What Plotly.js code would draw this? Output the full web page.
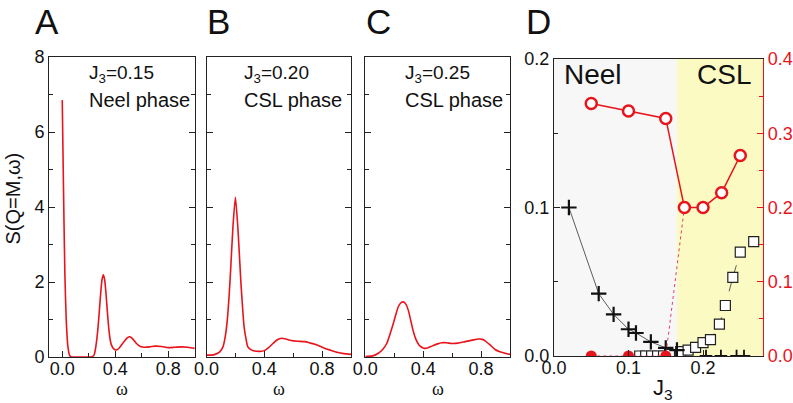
<!DOCTYPE html>
<html>
<head>
<meta charset="utf-8">
<script src="https://cdn.plot.ly/plotly-3.0.1.min.js"></script>
<style>html,body{margin:0;padding:0;background:#fff;}#chart{width:793px;height:403px;}</style>
</head>
<body>
<div id="chart"></div>
<script>
// ---- Panel A: J3 = 0.15 (Neel phase)
var omegaA = [0, 0.005, 0.013, 0.02, 0.03, 0.043, 0.056, 0.07, 0.1, 0.15, 0.2, 0.22, 0.24, 0.25, 0.26, 0.27, 0.28, 0.29, 0.30, 0.31, 0.32, 0.33, 0.34, 0.35, 0.36, 0.37, 0.39, 0.41, 0.43, 0.46, 0.49, 0.51, 0.53, 0.56, 0.59, 0.62, 0.66, 0.70, 0.75, 0.80, 0.85, 0.90, 0.95, 1.0];
var sA     = [6.85, 5.6, 3.65, 2.2, 0.99, 0.27, 0.04, 0, 0, 0, 0, 0, 0.05, 0.2, 0.45, 0.79, 1.23, 1.7, 2.06, 2.19, 2.06, 1.7, 1.23, 0.8, 0.5, 0.33, 0.21, 0.19, 0.24, 0.38, 0.51, 0.54, 0.49, 0.36, 0.28, 0.26, 0.27, 0.29, 0.28, 0.25, 0.26, 0.27, 0.26, 0.23];
// ---- Panel B: J3 = 0.20 (CSL phase)
var omegaB = [0, 0.03, 0.06, 0.09, 0.114, 0.13, 0.144, 0.156, 0.167, 0.183, 0.2, 0.218, 0.237, 0.25, 0.26, 0.275, 0.286, 0.31, 0.333, 0.37, 0.4, 0.43, 0.46, 0.49, 0.52, 0.55, 0.585, 0.63, 0.68, 0.72, 0.75, 0.79, 0.82, 0.86, 0.91, 0.95, 1.0];
var sB     = [0.05, 0.05, 0.07, 0.13, 0.27, 0.55, 0.99, 1.6, 2.32, 3.47, 4.26, 3.39, 2.05, 1.3, 0.81, 0.45, 0.27, 0.19, 0.16, 0.15, 0.17, 0.25, 0.36, 0.46, 0.5, 0.48, 0.44, 0.42, 0.41, 0.37, 0.34, 0.28, 0.23, 0.18, 0.12, 0.09, 0.07];
// ---- Panel C: J3 = 0.25 (CSL phase)
var omegaC = [0, 0.05, 0.09, 0.12, 0.148, 0.17, 0.194, 0.21, 0.228, 0.245, 0.263, 0.28, 0.297, 0.315, 0.332, 0.35, 0.371, 0.39, 0.408, 0.43, 0.46, 0.5, 0.528, 0.56, 0.598, 0.64, 0.69, 0.74, 0.782, 0.81, 0.828, 0.86, 0.897, 0.93, 0.967, 1.0];
var sC     = [0.01, 0.03, 0.1, 0.2, 0.36, 0.6, 0.9, 1.12, 1.34, 1.44, 1.47, 1.41, 1.25, 0.96, 0.68, 0.47, 0.32, 0.26, 0.23, 0.24, 0.29, 0.35, 0.38, 0.38, 0.36, 0.37, 0.41, 0.45, 0.48, 0.47, 0.43, 0.33, 0.2, 0.14, 0.1, 0.07];
// ---- Panel D: phase diagram vs J3
var crossJ = [0.02, 0.06, 0.08, 0.1, 0.11, 0.13, 0.15, 0.165];
var crossV = [0.1, 0.042, 0.028, 0.018, 0.0155, 0.0095, 0.0055, 0.004];
var crossZeroJ = [0.204, 0.224, 0.245, 0.255];
var crossZeroV = [0, 0, 0, 0];
var squareJ = [0.115, 0.123, 0.131, 0.139, 0.147, 0.155, 0.17, 0.18, 0.19, 0.2, 0.21, 0.222, 0.23, 0.24, 0.25, 0.268];
var squareV = [0, 0, 0, 0, 0, 0.001, 0.003, 0.004, 0.0058, 0.009, 0.011, 0.0215, 0.034, 0.053, 0.07, 0.077];
var circleJ = [0.05, 0.1, 0.15, 0.175, 0.2, 0.225, 0.25];
var circleV = [0.34, 0.33, 0.32, 0.2, 0.2, 0.22, 0.27];
var dotJ = [0.05, 0.1, 0.15];
var dotV = [0, 0, 0];
var jumpJ = [0.15, 0.175];
var jumpV = [0, 0.2];
var phaseBoundary = 0.165;
var phaseLabels = ['Neel', 'CSL'];
var panelLetters = ['A', 'B', 'C', 'D'];
var panelJ = ['J<sub>3</sub>=0.15', 'J<sub>3</sub>=0.20', 'J<sub>3</sub>=0.25'];
var panelPhase = ['Neel phase', 'CSL phase', 'CSL phase'];

var RED = '#e8141b';
var FONT = 'Arial, "Liberation Sans", sans-serif';
var W = 793, H = 403;
function px(a, b) { return [a / W, b / W]; }
function py(top, bottom) { return [(H - bottom) / H, (H - top) / H]; }

var traces = [
  {x: omegaA, y: sA, xaxis: 'x', yaxis: 'y', mode: 'lines', line: {color: RED, width: 1.6, shape: 'spline', smoothing: 0.6}},
  {x: omegaB, y: sB, xaxis: 'x2', yaxis: 'y2', mode: 'lines', line: {color: RED, width: 1.6, shape: 'spline', smoothing: 0.6}},
  {x: omegaC, y: sC, xaxis: 'x3', yaxis: 'y3', mode: 'lines', line: {color: RED, width: 1.6, shape: 'spline', smoothing: 0.6}},
  // D
  {x: dotJ.concat(jumpJ.slice(1)), y: dotV.concat(jumpV.slice(1)), xaxis: 'x4', yaxis: 'y5', mode: 'lines', line: {color: '#e0406a', width: 1, dash: 'dot'}},
  {x: squareJ, y: squareV, xaxis: 'x4', yaxis: 'y4', mode: 'lines+markers', line: {color: '#333', width: 0.8, dash: 'dash'},
   marker: {symbol: 'square', size: 10, color: '#fff', line: {color: '#222', width: 1.2}}},
  {x: crossJ, y: crossV, xaxis: 'x4', yaxis: 'y4', mode: 'lines+markers', line: {color: '#333', width: 0.8},
   marker: {symbol: 'cross-thin-open', size: 11, color: '#111', line: {color: '#111', width: 2.2}}},
  {x: crossZeroJ, y: crossZeroV, xaxis: 'x4', yaxis: 'y4', mode: 'markers',
   marker: {symbol: 'cross-thin-open', size: 9, color: '#111', line: {color: '#111', width: 1.8}}},
  {x: circleJ, y: circleV, xaxis: 'x4', yaxis: 'y5', mode: 'lines+markers', line: {color: RED, width: 1.5},
   marker: {symbol: 'circle', size: 11, color: '#fff', line: {color: RED, width: 2.5}}},
  {x: dotJ, y: dotV, xaxis: 'x4', yaxis: 'y5', mode: 'markers', marker: {symbol: 'circle', size: 11, color: RED}}
];

var tickFont = {family: FONT, size: 18, color: '#111'};
function xAx(dom, range, dtick, minor, showLabels) {
  return {domain: dom, range: range, showgrid: false, zeroline: false, showline: true, linecolor: '#222', linewidth: 1,
    mirror: true, ticks: 'inside', ticklen: 6, tickwidth: 1, tickcolor: '#222', tick0: 0, dtick: dtick, tickformat: '.1f',
    ticklabelstandoff: -5,
    minor: {dtick: minor, ticks: 'inside', ticklen: 4, tickcolor: '#222'}, showticklabels: showLabels, tickfont: tickFont, fixedrange: true};
}
function yAx(dom, range, dtick, minor, showLabels, fmt) {
  return {domain: dom, range: range, showgrid: false, zeroline: false, showline: true, linecolor: '#222', linewidth: 1,
    mirror: 'ticks', ticks: 'inside', ticklen: 6, tickwidth: 1, tickcolor: '#222', tick0: 0, dtick: dtick, tickformat: fmt,
    minor: {dtick: minor, ticks: 'inside', ticklen: 4, tickcolor: '#222'}, showticklabels: showLabels, tickfont: tickFont, fixedrange: true};
}
var yDomABC = py(57, 357);
var yDomD = py(59, 356);

var layout = {
  width: W, height: H, margin: {l: 0, r: 0, t: 0, b: 0}, showlegend: false,
  paper_bgcolor: '#fff', plot_bgcolor: 'rgba(0,0,0,0)', font: {family: FONT, color: '#111'},
  xaxis: Object.assign(xAx(px(49, 194.75), [-0.1, 1.0], 0.4, 0.2, true), {anchor: 'y'}),
  yaxis: Object.assign(yAx(yDomABC, [0, 8], 2, 1, true, 'd'), {anchor: 'x'}),
  xaxis2: Object.assign(xAx(px(206.5, 351), [0, 1.0], 0.4, 0.2, true), {anchor: 'y2'}),
  yaxis2: Object.assign(yAx(yDomABC, [0, 8], 2, 1, false, 'd'), {anchor: 'x2'}),
  xaxis3: Object.assign(xAx(px(365.3, 510), [0, 1.0], 0.4, 0.2, true), {anchor: 'y3'}),
  yaxis3: Object.assign(yAx(yDomABC, [0, 8], 2, 1, false, 'd'), {anchor: 'x3'}),
  xaxis4: Object.assign(xAx(px(554, 763), [0, 0.2805], 0.1, 0.05, true), {anchor: 'y4', minor: {ticks: ''}}),
  yaxis4: Object.assign(yAx(yDomD, [0, 0.2], 0.1, 0.05, true, '.1f'), {anchor: 'x4', mirror: false}),
  yaxis5: {overlaying: 'y4', anchor: 'x4', side: 'right', range: [0, 0.4], showgrid: false, zeroline: false, showline: true,
    linecolor: RED, linewidth: 1.2, ticks: 'inside', ticklen: 6, tickwidth: 1, tickcolor: RED, tick0: 0, dtick: 0.1, tickformat: '.1f',
    minor: {dtick: 0.05, ticks: 'inside', ticklen: 4, tickcolor: RED}, tickfont: {family: FONT, size: 18, color: RED}, fixedrange: true},
  shapes: [
    {type: 'rect', xref: 'x4', yref: 'y4', x0: 0, x1: phaseBoundary, y0: 0, y1: 0.2, fillcolor: '#f7f7f7', line: {width: 0}, layer: 'below'},
    {type: 'rect', xref: 'x4', yref: 'y4', x0: phaseBoundary, x1: 0.2805, y0: 0, y1: 0.2, fillcolor: '#fafac2', line: {width: 0}, layer: 'below'}
  ],
  annotations: []
};

var letterX = [47, 218.5, 378, 538.5];
panelLetters.forEach(function (t, i) {
  layout.annotations.push({text: t, xref: 'paper', yref: 'paper', x: letterX[i] / W, y: (H - 22) / H, xanchor: 'center', yanchor: 'middle',
    showarrow: false, font: {family: FONT, size: 35, color: '#111'}});
});
var textX = [87, 241.5, 403];
panelJ.forEach(function (t, i) {
  layout.annotations.push({text: t, xref: 'paper', yref: 'paper', x: textX[i] / W, y: (H - 74) / H, xanchor: 'left', yanchor: 'middle',
    showarrow: false, font: {family: FONT, size: 19, color: '#111'}});
  layout.annotations.push({text: panelPhase[i], xref: 'paper', yref: 'paper', x: textX[i] / W, y: (H - 100) / H, xanchor: 'left', yanchor: 'middle',
    showarrow: false, font: {family: FONT, size: 20, color: '#111'}});
});
// omega axis titles
[121.9, 278.7, 437.6].forEach(function (cx) {
  layout.annotations.push({text: 'ω', xref: 'paper', yref: 'paper', x: cx / W, y: (H - 389) / H, xanchor: 'center', yanchor: 'middle',
    showarrow: false, font: {family: '"Liberation Serif", "Times New Roman", serif', size: 18, color: '#111'}});
});
layout.annotations.push({text: 'S(Q=M,ω)', xref: 'paper', yref: 'paper', x: 12.5 / W, y: (H - 199) / H, xanchor: 'center', yanchor: 'middle',
  textangle: -90, showarrow: false, font: {family: FONT, size: 20, color: '#111'}});
layout.annotations.push({text: 'J<sub>3</sub>', xref: 'paper', yref: 'paper', x: 663 / W, y: (H - 389) / H, xanchor: 'center', yanchor: 'middle',
  showarrow: false, font: {family: FONT, size: 22, color: '#111'}});
layout.annotations.push({text: phaseLabels[0], xref: 'paper', yref: 'paper', x: 562 / W, y: (H - 75) / H, xanchor: 'left', yanchor: 'middle',
  showarrow: false, font: {family: FONT, size: 28, color: '#111'}});
layout.annotations.push({text: phaseLabels[1], xref: 'paper', yref: 'paper', x: 753 / W, y: (H - 75) / H, xanchor: 'right', yanchor: 'middle',
  showarrow: false, font: {family: FONT, size: 28, color: '#111'}});

Plotly.newPlot('chart', traces, layout, {staticPlot: true, displayModeBar: false});
</script>
</body>
</html>
